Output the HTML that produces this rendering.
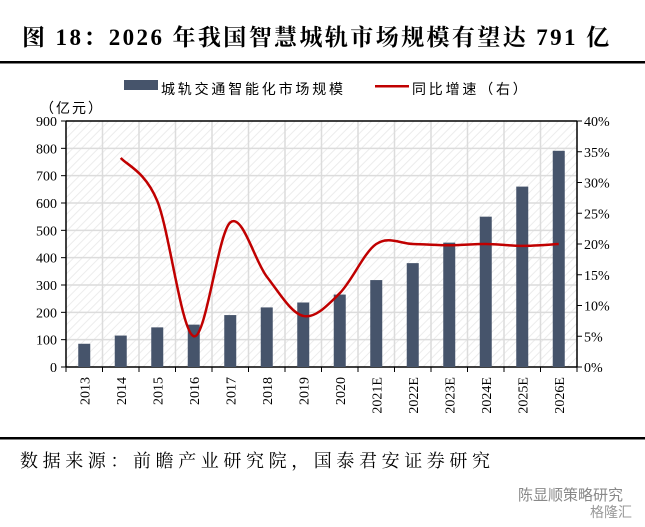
<!DOCTYPE html>
<html><head><meta charset="utf-8"><style>
body{margin:0;background:#fff;width:645px;height:522px;overflow:hidden;font-family:"Liberation Serif","Noto Serif CJK SC",serif}
</style></head><body>
<svg width="645" height="522" xmlns="http://www.w3.org/2000/svg">
<defs><pattern id="hatch" width="6" height="6" patternUnits="userSpaceOnUse" patternTransform="rotate(45)"><rect width="6" height="6" fill="#fff"/><line x1="0" y1="0" x2="0" y2="6" stroke="#ececec" stroke-width="2"/></pattern></defs>
<text x="22" y="45" font-size="23" font-weight="bold" fill="#000" letter-spacing="2.4">图 18：2026 年我国智慧城轨市场规模有望达 791 亿</text>
<rect x="0" y="61" width="645" height="2.5" fill="#000"/>
<rect x="124" y="80" width="34" height="10" fill="#46546b"/>
<text x="161" y="94" font-size="14" letter-spacing="2.8" font-family="Liberation Sans, Noto Sans CJK SC, sans-serif">城轨交通智能化市场规模</text>
<rect x="375" y="85" width="34" height="2.5" fill="#c00000"/>
<text x="412" y="94" font-size="14" letter-spacing="2.8" font-family="Liberation Sans, Noto Sans CJK SC, sans-serif">同比增速（右）</text>
<text x="40" y="113" font-size="14" letter-spacing="2" font-family="Liberation Sans, Noto Sans CJK SC, sans-serif">（亿元）</text>
<g id="plot"></g>
<rect x="0" y="437" width="645" height="2.5" fill="#000"/>
<text x="20" y="467" font-size="18" letter-spacing="4.6">数据来源：前瞻产业研究院，国泰君安证券研究</text>
<text x="518" y="500" font-size="15" fill="#888" font-family="Liberation Sans, Noto Sans CJK SC, sans-serif">陈显顺策略研究</text>
<text x="590" y="517" font-size="14" fill="#999" font-family="Liberation Sans, Noto Sans CJK SC, sans-serif">格隆汇</text>
</svg>
<script>
const categories=["2013","2014","2015","2016","2017","2018","2019","2020","2021E","2022E","2023E","2024E","2025E","2026E"];
const marketSize=[85,115,145,155,190,218,236,265,318,380,455,550,660,791];
const growthPct=[null,34,27,5,23.5,14.7,8.3,12,20,20,19.8,20,19.7,20];
const leftTicks=[0,100,200,300,400,500,600,700,800,900];
const rightTicks=[0,5,10,15,20,25,30,35,40];
const NS="http://www.w3.org/2000/svg";
const L=66,R=577,T=121,B=367;
const cw=(R-L)/categories.length;
const xC=i=>L+cw*(i+0.5);
const yL=v=>B-(v/900)*(B-T);
const yR=v=>B-(v/40)*(B-T);
const g=document.getElementById('plot');
function mk(tag,a){const e=document.createElementNS(NS,tag);for(const k in a)e.setAttribute(k,a[k]);g.appendChild(e);return e;}
let e=mk('rect',{x:L,y:T,width:R-L,height:B-T,fill:'url(#hatch)'});


leftTicks.forEach(v=>{
 if(v>0&&v<900){const l=mk('line',{x1:L,x2:R,y1:yL(v),y2:yL(v),stroke:'#dcdcdc','stroke-width':1.5});
 
 }
 const t=mk('line',{x1:L-5,x2:L,y1:yL(v),y2:yL(v),stroke:'#000'});
 
 
 const tx=mk('text',{x:L-9,y:yL(v)+5,'text-anchor':'end','font-size':14});tx.textContent=v;
 
 
});
rightTicks.forEach(v=>{
 const t=mk('line',{x1:R,x2:R+5,y1:yR(v),y2:yR(v),stroke:'#000'});
 
 
 const tx=mk('text',{x:R+7,y:yR(v)+5,'font-size':14});tx.textContent=v+'%';
 
 
});
for(let i=1;i<categories.length;i++){
 const l=mk('line',{x1:L+cw*i,x2:L+cw*i,y1:T,y2:B,stroke:'#dcdcdc','stroke-width':1.5});
 
 
}
for(let i=0;i<=categories.length;i++){
 const t=mk('line',{x1:L+cw*i,x2:L+cw*i,y1:B,y2:B+5,stroke:'#000'});
 
 
}
e=mk('line',{x1:L,x2:R,y1:T,y2:T,stroke:'#000','stroke-width':1.5});


e=mk('line',{x1:L,x2:L,y1:T,y2:B,stroke:'#000','stroke-width':1.5});


e=mk('line',{x1:R,x2:R,y1:T,y2:B,stroke:'#000','stroke-width':1.5});


e=mk('line',{x1:L,x2:R,y1:B,y2:B,stroke:'#000','stroke-width':1.5});


marketSize.forEach((v,i)=>{
 const b=mk('rect',{x:xC(i)-6,y:yL(v),width:12,height:B-yL(v),fill:'#46546b'});
 
 
});
categories.forEach((c,i)=>{
 const t=mk('text',{x:0,y:0,'text-anchor':'end','font-size':14,transform:`translate(${xC(i)+5},${B+10}) rotate(-90)`});t.textContent=c;
 
 
});
const pts=[];growthPct.forEach((v,i)=>{if(v!==null)pts.push([xC(i),yR(v)]);});
let d='M'+pts[0][0]+','+pts[0][1];
for(let i=0;i<pts.length-1;i++){
 const p0=pts[Math.max(0,i-1)],p1=pts[i],p2=pts[i+1],p3=pts[Math.min(pts.length-1,i+2)];
 const c1=[p1[0]+(p2[0]-p0[0])/6,p1[1]+(p2[1]-p0[1])/6],c2=[p2[0]-(p3[0]-p1[0])/6,p2[1]-(p3[1]-p1[1])/6];
 d+=` C${c1[0]},${c1[1]} ${c2[0]},${c2[1]} ${p2[0]},${p2[1]}`;
}
const ln=mk('path',{d:d,fill:'none',stroke:'#c00000','stroke-width':2.5});


</script>
</body></html>
